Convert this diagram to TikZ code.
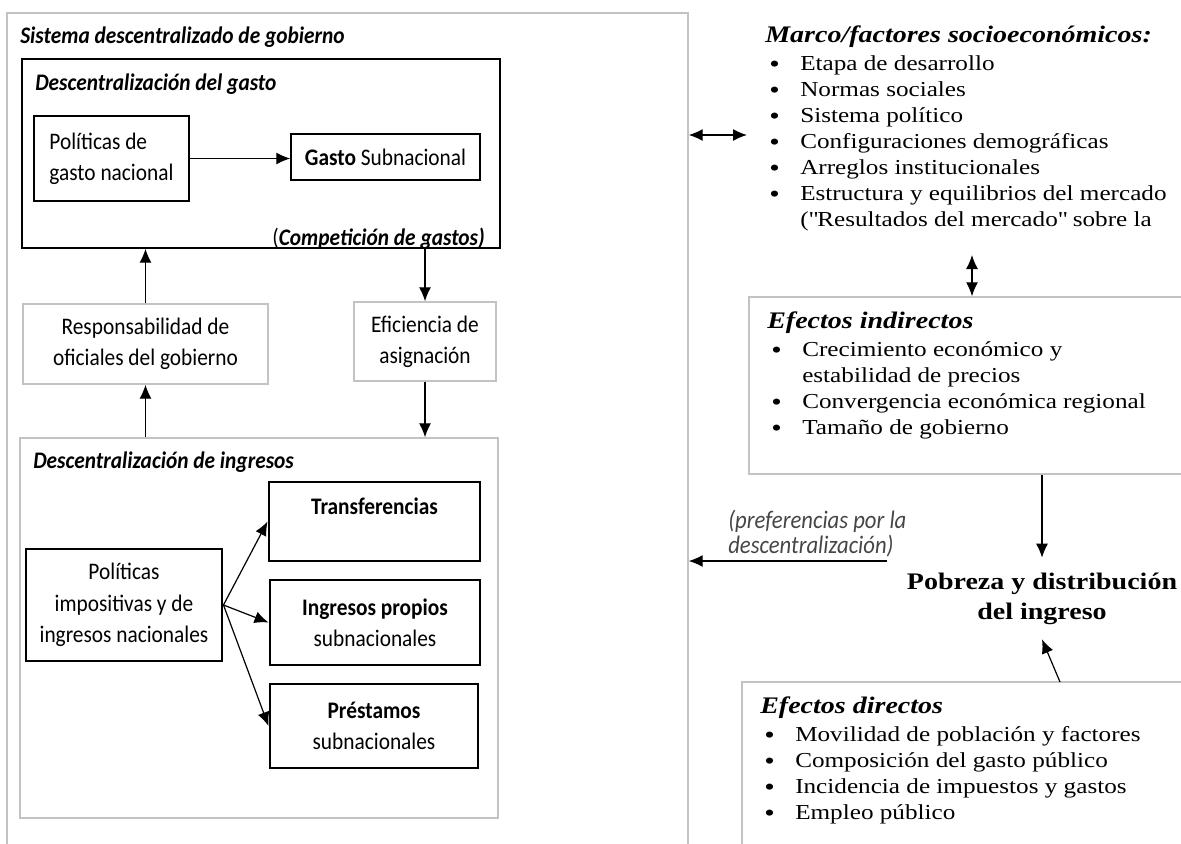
\documentclass[tikz,border=0pt]{standalone}
\usepackage{fontspec}
\setmainfont{Liberation Serif}[FakeStretch=1.18]
\newfontfamily\carlito{Carlito}[FakeStretch=0.9]
\usetikzlibrary{arrows.meta}
\newdimen\pxu \pxu=0.75pt
\definecolor{lgray}{RGB}{195,195,195}
\definecolor{pgray}{RGB}{70,70,70}
\newcommand{\bul}{\hspace*{3pt}\makebox[23.25pt][l]{\raisebox{-1.3pt}{\fontsize{19}{19.5}\selectfont\textbullet}}}
\newcommand{\bulind}{\hspace*{26.25pt}}
\newcommand{\hdr}[1]{{\fontsize{17.8}{19.5}\selectfont\bfseries\itshape #1}}
\begin{document}
\begin{tikzpicture}[x=0.75pt,y=-0.75pt,>={Latex[length=10.5pt,width=9pt]},
  grybox/.style={draw=lgray,line width=1.1pt,inner sep=0pt},
  blkbox/.style={draw,line width=1.1pt,inner sep=0pt},
  thkbox/.style={draw,line width=2.2pt,inner sep=0pt},
  lbl/.style={font=\carlito\fontsize{17.8}{23.5}\selectfont,align=center},
  srf/.style={font=\fontsize{16}{19.5}\selectfont,align=left,inner sep=0pt,anchor=north west},
  ttl/.style={font=\carlito\bfseries\itshape\fontsize{17.8}{18}\selectfont,inner sep=0pt,anchor=base west},
  arr/.style={->,line width=0.9pt}]
\useasboundingbox (0,0) rectangle (1181,843);
\clip (0,0) rectangle (1181,843);
\node[grybox,minimum width=681\pxu,minimum height=847\pxu] (sistema) at (347.5,436.5) {};
\node[ttl] (tsis) at (20,43) {Sistema descentralizado de gobierno};
\node[blkbox,minimum width=478\pxu,minimum height=189\pxu] (gasto) at (261,153.5) {};
\node[ttl] (tgas) at (35,90) {Descentralización del gasto};
\node[blkbox,lbl,align=left,minimum width=155\pxu,minimum height=85\pxu] (polgas) at (111.5,158.5) {Políticas de\\gasto nacional};
\node[blkbox,lbl,minimum width=189\pxu,minimum height=46\pxu] (gsub) at (385.5,157) {\textbf{Gasto} Subnacional};
\node[lbl,anchor=base east,inner sep=0pt] (comp) at (485,245) {(\textbf{\itshape Competición de gastos)}};
\draw[arr] (polgas.east) -- (polgas.east -| gsub.west);
\node[grybox,lbl,minimum width=245\pxu,minimum height=80\pxu] (resp) at (145.5,344) {Responsabilidad de\\oficiales del gobierno};
\node[grybox,lbl,minimum width=142\pxu,minimum height=79\pxu] (efic) at (425,341.5) {Eficiencia de\\asignación};
\draw[arr] (resp.north) -- (resp.north |- gasto.south);
\draw[arr] (efic.north |- gasto.south) -- (efic.north);
\node[grybox,minimum width=478\pxu,minimum height=380\pxu] (ingr) at (259,628) {};
\node[ttl] (ting) at (33,468) {Descentralización de ingresos};
\draw[arr] (resp.south |- ingr.north) -- (resp.south);
\draw[arr] (efic.south) -- (efic.south |- ingr.north);
\node[thkbox,lbl,minimum width=196\pxu,minimum height=112\pxu] (polimp) at (124,605) {Políticas\\impositivas y de\\ingresos nacionales};
\node[thkbox,lbl,minimum width=211\pxu,minimum height=79\pxu] (transf) at (374.5,521.5) {\textbf{Transferencias}\\\mbox{}};
\node[thkbox,lbl,minimum width=210\pxu,minimum height=85\pxu] (propios) at (375,622.5) {\textbf{Ingresos propios}\\subnacionales};
\node[thkbox,lbl,minimum width=208\pxu,minimum height=84\pxu] (prest) at (374,726) {\textbf{Préstamos}\\subnacionales};
\draw[arr] (polimp.east) -- (transf.west);
\draw[arr] (polimp.east) -- (propios.west);
\draw[arr] (polimp.east) -- (prest.west);
\node[srf] (marco) at (765,26) {\hdr{Marco/factores socioeconómicos:}\\[1.5pt]\bul Etapa de desarrollo\\\bul Normas sociales\\\bul Sistema político\\\bul Configuraciones demográficas\\\bul Arreglos institucionales\\\bul Estructura y equilibrios del mercado\\\bulind(\textquotedbl Resultados del mercado\textquotedbl{} sobre la};
\coordinate (dbl) at (747,135);
\draw[arr,<->] (sistema.east |- dbl) -- (dbl);
\node[grybox,minimum width=451\pxu,minimum height=177\pxu] (indir) at (974.5,385.5) {};
\node[srf] (tind) at (767,312) {\hdr{Efectos indirectos}\\[1.5pt]\bul Crecimiento económico y\\\bulind estabilidad de precios\\\bul Convergencia económica regional\\\bul Tamaño de gobierno};
\coordinate (dblb) at (972,255);
\draw[arr,<->] (dblb) -- (dblb |- indir.north);
\node[font=\bfseries\fontsize{17.8}{22.5}\selectfont,align=center,inner xsep=4pt,inner ysep=11pt] (pobr) at (1042,598.5) {Pobreza y distribución\\del ingreso};
\draw[arr] (indir.south -| pobr.north) -- (pobr.north);
\node[grybox,minimum width=458\pxu,minimum height=178\pxu] (dir) at (971,771) {};
\node[srf] (tdir) at (760,697) {\hdr{Efectos directos}\\[1.5pt]\bul Movilidad de población y factores\\\bul Composición del gasto público\\\bul Incidencia de impuestos y gastos\\\bul Empleo público};
\coordinate (dtop) at (1060,682);
\draw[arr] (dtop) -- (pobr.south);
\coordinate (pref) at (887,561);
\draw[arr] (pref) -- (pref -| sistema.east);
\node[font=\carlito\itshape\fontsize{18.9}{18.75}\selectfont,text=pgray,align=left,anchor=south west,inner sep=0pt] (tpref) at (728,557) {(preferencias por la\\descentralización)};
\end{tikzpicture}
\end{document}
